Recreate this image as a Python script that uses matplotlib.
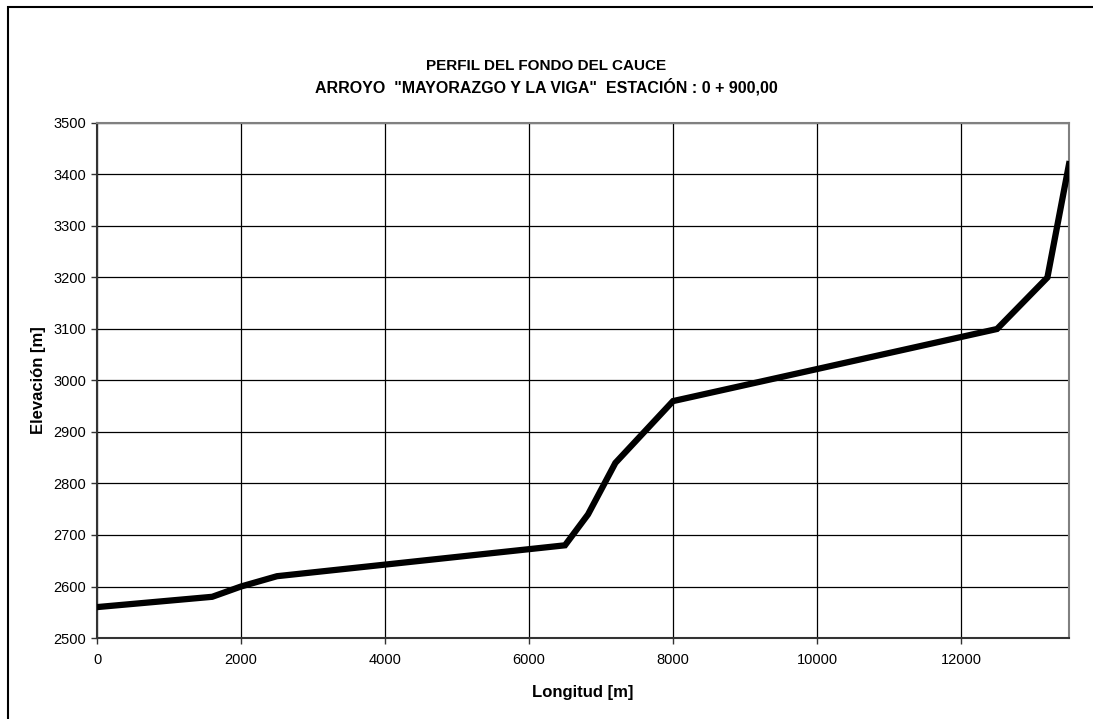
import matplotlib.pyplot as plt
from matplotlib.patches import Rectangle

plt.rcParams['font.family'] = ['Liberation Sans', 'DejaVu Sans']

# perfil del fondo del cauce: longitud [m] vs elevacion [m]
longitud = [0, 1600, 2000, 2500, 6500, 6820, 7200, 8000, 12500, 13200, 13500]
elevacion = [2560, 2580, 2600, 2620, 2680, 2740, 2840, 2960, 3100, 3200, 3420]

x_ticks = [0, 2000, 4000, 6000, 8000, 10000, 12000]
y_ticks = list(range(2500, 3501, 100))

fig = plt.figure(figsize=(10.93, 7.19), dpi=100)
# marco exterior del grafico
fig.patches.append(Rectangle((8 / 1093, -0.05), 1.2, 1 - 7 / 719 + 0.05,
                             transform=fig.transFigure, fill=False,
                             edgecolor='black', linewidth=1.5))

ax = fig.add_axes([97 / 1093, 1 - 638 / 719, (1069 - 97) / 1093, (638 - 123) / 719])
ax.plot(longitud, elevacion, color='black', linewidth=4.5, solid_joinstyle='miter', zorder=3)

ax.set_xlim(0, 13500)
ax.set_ylim(2500, 3500)
ax.set_xticks(x_ticks)
ax.set_yticks(y_ticks)
ax.grid(True, color='black', linewidth=0.9)
ax.tick_params(labelsize=10.5, length=4, width=1, color='#333333')
ax.tick_params(axis='x', pad=7)
ax.tick_params(axis='y', pad=4)

for side in ['top', 'right']:
    ax.spines[side].set_color('#808080')
    ax.spines[side].set_linewidth(1.5)
for side in ['left', 'bottom']:
    ax.spines[side].set_color('#333333')
    ax.spines[side].set_linewidth(1.5)

ax.set_xlabel('Longitud [m]', fontsize=12, fontweight='bold', labelpad=13)
ax.set_ylabel('Elevación [m]', fontsize=12, fontweight='bold', labelpad=5)

fig.text(0.5, 1 - 66 / 719, 'PERFIL DEL FONDO DEL CAUCE', ha='center', va='center',
         fontsize=11, fontweight='bold')
fig.text(0.5, 1 - 87 / 719, 'ARROYO  "MAYORAZGO Y LA VIGA"  ESTACIÓN : 0 + 900,00',
         ha='center', va='center', fontsize=11.5, fontweight='bold')

fig.savefig('out.png', dpi=100)
